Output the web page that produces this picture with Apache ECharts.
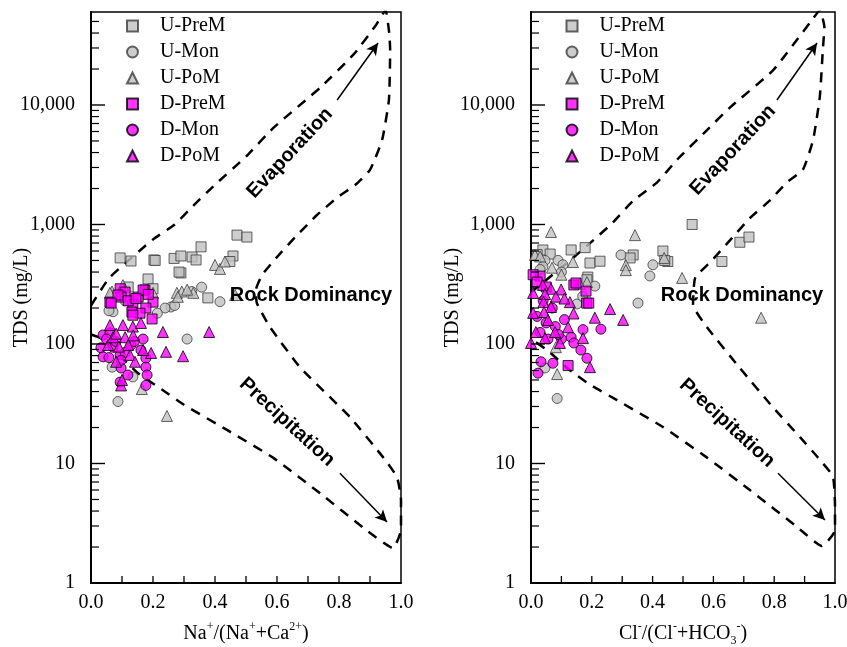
<!DOCTYPE html>
<html>
<head>
<meta charset="utf-8">
<script src="https://cdn.jsdelivr.net/npm/echarts@6/dist/echarts.min.js"></script>
<style>
  html, body { margin: 0; padding: 0; background: #fff; }
  #chart { width: 847px; height: 647px; }
</style>
</head>
<body>
<div id="chart"></div>
<script>
// legend names, in draw order
var names = ['U-PreM', 'U-Mon', 'U-PoM', 'D-PreM', 'D-Mon', 'D-PoM'];

// Na+/(Na+ + Ca2+) vs TDS
var naUPreM = [[0.094, 525], [0.129, 495], [0.203, 505], [0.207, 500], [0.268, 520], [0.29, 545], [0.326, 535], [0.339, 505],
  [0.355, 650], [0.29, 393], [0.284, 400], [0.184, 350], [0.471, 815], [0.503, 785], [0.458, 545], [0.448, 490], [0.377, 243],
  [0.12, 300], [0.2, 290]];
var naUMon = [[0.357, 299], [0.325, 275], [0.416, 226], [0.258, 204], [0.239, 200], [0.214, 181], [0.31, 110], [0.087, 33],
  [0.068, 64], [0.071, 186], [0.058, 190], [0.135, 53], [0.27, 210], [0.11, 230]];
var naUPoM = [[0.4, 459], [0.416, 425], [0.432, 490], [0.277, 268], [0.293, 275], [0.33, 268], [0.28, 248], [0.465, 257],
  [0.103, 311], [0.068, 275], [0.2, 268], [0.245, 25], [0.164, 42], [0.061, 268], [0.31, 285]];
var naDPreM = [[0.094, 290], [0.11, 272], [0.061, 224], [0.097, 247], [0.152, 247], [0.174, 283], [0.2, 224], [0.135, 213],
  [0.177, 200], [0.087, 257], [0.168, 283], [0.158, 181], [0.132, 185], [0.197, 162], [0.135, 174], [0.065, 220],
  [0.12, 230], [0.145, 240], [0.185, 260]];
var naDMon = [[0.039, 119], [0.032, 93], [0.039, 78], [0.071, 94], [0.094, 81], [0.097, 63], [0.094, 48], [0.119, 55],
  [0.168, 110], [0.161, 89], [0.177, 76], [0.177, 64], [0.181, 55], [0.177, 45], [0.129, 98], [0.11, 85], [0.058, 77],
  [0.097, 73], [0.061, 124], [0.08, 105], [0.14, 105], [0.05, 110]];
var naDPoM = [[0.061, 144], [0.103, 144], [0.135, 140], [0.161, 150], [0.232, 126], [0.381, 126], [0.242, 86], [0.297, 79],
  [0.194, 84], [0.168, 89], [0.055, 98], [0.081, 71], [0.126, 81], [0.142, 71], [0.097, 45], [0.11, 114], [0.071, 114],
  [0.136, 118], [0.081, 122], [0.12, 98], [0.09, 95], [0.1, 50]];

// Cl-/(Cl- + HCO3-) vs TDS
var clUPreM = [[0.53, 1000], [0.687, 710], [0.717, 785], [0.628, 490], [0.434, 600], [0.45, 490], [0.44, 500], [0.336, 556],
  [0.326, 525], [0.194, 476], [0.227, 493], [0.178, 640], [0.132, 612], [0.039, 612], [0.063, 566], [0.187, 363],
  [0.184, 345], [0.02, 560]];
var clUMon = [[0.296, 556], [0.401, 460], [0.391, 371], [0.352, 220], [0.21, 305], [0.151, 216], [0.089, 501], [0.105, 460],
  [0.046, 500], [0.086, 35], [0.046, 63], [0.039, 445], [0.03, 420], [0.1, 400], [0.17, 250]];
var clUPoM = [[0.066, 865], [0.342, 815], [0.312, 457], [0.312, 415], [0.438, 525], [0.497, 357], [0.757, 166], [0.138, 485],
  [0.069, 435], [0.013, 556], [0.184, 330], [0.086, 56], [0.082, 94], [0.03, 540], [0.1, 380], [0.16, 320]];
var clDPreM = [[0.141, 312], [0.181, 277], [0.183, 220], [0.19, 220], [0.03, 370], [0.007, 380], [0.122, 66], [0.02, 330],
  [0.05, 300], [0.148, 324]];
var clDMon = [[0.033, 71], [0.023, 57], [0.072, 69], [0.23, 133], [0.171, 132], [0.132, 114], [0.141, 102], [0.164, 89],
  [0.184, 76], [0.1, 110], [0.056, 110], [0.03, 125], [0.02, 170], [0.05, 150], [0.08, 140], [0.11, 160], [0.07, 200],
  [0.04, 230], [0.09, 120]];
var clDPoM = [[0.26, 196], [0.303, 159], [0.21, 166], [0.171, 112], [0.194, 64], [0.039, 312], [0.066, 290], [0.099, 286],
  [0.007, 267], [0.046, 262], [0.082, 249], [0.128, 224], [0.041, 225], [0.066, 204], [0.007, 182], [0.043, 185],
  [0.056, 159], [0.016, 126], [0.046, 112], [0.079, 126], [0.122, 138], [0.0, 102], [0.095, 102], [0.11, 240], [0.14, 180]];

// Gibbs boundary curves (dashed)
var naCurve = [[0, 210], [0.06, 360], [0.2, 750], [0.27, 1000], [0.335, 1480], [0.4, 2150], [0.5, 3700], [0.59, 6500],
  [0.74, 14000], [0.85, 27000], [0.92, 47000], [0.95, 62000], [0.962, 40000], [0.965, 28800], [0.961, 11000],
  [0.939, 5100], [0.9, 2860], [0.852, 2140], [0.797, 1700], [0.729, 1200], [0.665, 815], [0.603, 545], [0.552, 378],
  [0.532, 283], [0.535, 220], [0.577, 139], [0.674, 64], [0.835, 24.5], [0.942, 11.3], [0.987, 7.7], [1.0, 4.95],
  [1.0, 2.78], [0.974, 1.96], [0.89, 2.75], [0.74, 5.6], [0.587, 11.2], [0.44, 19], [0.3, 31], [0.232, 41],
  [0.152, 57], [0.03, 112], [0, 120]];
var clCurve = [[0, 270], [0.06, 360], [0.128, 500], [0.197, 708], [0.266, 1020], [0.336, 1580], [0.414, 2240], [0.48, 3470],
  [0.579, 6170], [0.655, 9550], [0.796, 19500], [0.918, 49000], [0.95, 62000], [0.965, 45000], [0.96, 29000],
  [0.95, 11700], [0.928, 5100], [0.895, 2900], [0.84, 2230], [0.786, 1590], [0.72, 1130], [0.655, 740], [0.595, 500],
  [0.54, 357], [0.533, 213], [0.579, 138], [0.687, 63], [0.796, 29.5], [0.885, 16.6], [0.944, 11.2], [0.993, 7.8],
  [1.0, 4.4], [1.0, 2.75], [0.957, 2.04], [0.875, 2.95], [0.72, 6.0], [0.579, 11.2], [0.434, 20.2], [0.283, 33.9],
  [0.194, 45.7], [0.128, 60.3], [0.053, 89], [0, 110]];

// axis ticks
var yMajor = [10, 100, 1000, 10000];
var minorTicks = [2, 3, 4, 5, 6, 7, 8, 9, 20, 30, 40, 50, 60, 70, 80, 90, 200, 300, 400, 500, 600, 700, 800, 900,
  2000, 3000, 4000, 5000, 6000, 7000, 8000, 9000, 20000, 30000, 40000, 50000];
var xMinor = [0.1, 0.2, 0.3, 0.4, 0.5, 0.6, 0.7, 0.8, 0.9];
var xTicks = [0, 0.2, 0.4, 0.6, 0.8, 1.0];

var serif = '"Liberation Serif", "Times New Roman", serif';
var sans = '"Liberation Sans", Arial, sans-serif';
var gray = { color: '#c0c0c0', borderColor: '#3c3c3c', borderWidth: 1 };
var pink = { color: '#ff00ff', borderColor: '#000', borderWidth: 1 };

function scatter(name, data, gi, symbol, style) {
  return {
    name: name, type: 'scatter', xAxisIndex: gi, yAxisIndex: gi, data: data,
    symbol: symbol, symbolSize: symbol === 'triangle' ? 11 : 10,
    itemStyle: style, z: 3
  };
}

function arrow(a, b) {
  return [{ coord: a, symbol: 'none' }, { coord: b, symbol: 'arrow' }];
}

function curve(data, gi, arrows) {
  return {
    name: 'boundary' + gi, type: 'line', xAxisIndex: gi, yAxisIndex: gi, data: data,
    showSymbol: false, smooth: 0.15, silent: true, z: 2,
    lineStyle: { color: '#000', width: 2.5, type: [10, 8] },
    markLine: {
      silent: true, symbol: ['none', 'arrow'], symbolSize: [9, 12],
      label: { show: false },
      lineStyle: { color: '#000', width: 1.5, type: 'solid' },
      data: arrows
    }
  };
}

function xAxisAt(gi, name, rich) {
  return {
    type: 'value', gridIndex: gi, min: 0, max: 1, interval: 0.2,
    name: name, nameLocation: 'middle', nameGap: 38, nameMoveOverlap: false,
    nameTextStyle: { fontFamily: serif, fontSize: 20, color: '#000', lineHeight: 26, rich: rich },
    axisLine: { show: true, onZero: false, lineStyle: { color: '#000', width: 2 } },
    axisTick: { show: false },
    axisLabel: { margin: 10, fontFamily: serif, fontSize: 20, color: '#000',
      formatter: function (v) { return xTicks.indexOf(Math.round(v * 10) / 10) >= 0 ? v.toFixed(1) : ''; } },
    splitLine: { show: false }
  };
}

function yAxisAt(gi, gap) {
  return {
    type: 'log', logBase: 10, min: 1, max: 60000, gridIndex: gi,
    name: 'TDS (mg/L)', nameLocation: 'middle', nameGap: gap, nameRotate: 90, nameMoveOverlap: false,
    nameTextStyle: { fontFamily: serif, fontSize: 20, color: '#000' },
    axisLine: { show: true, onZero: false, lineStyle: { color: '#000', width: 2 } },
    axisTick: { show: false },
    axisLabel: { margin: 16, fontFamily: serif, fontSize: 20, color: '#000',
      formatter: function (v) {
        var e = Math.log(v) / Math.LN10;
        if (Math.abs(e - Math.round(e)) > 1e-6) return '';
        return Math.round(v).toLocaleString('en-US');
      } },
    splitLine: { show: false }
  };
}

function legendAt(left) {
  return {
    orient: 'vertical', left: left, top: 13, padding: 0, itemGap: 0,
    itemWidth: 11, itemHeight: 11, selectedMode: false, data: names,
    textStyle: { fontFamily: serif, fontSize: 20, color: '#000', lineHeight: 26, padding: [0, 0, 0, 17] }
  };
}

var supRich = {
  sup: { fontFamily: serif, fontSize: 12, color: '#000', verticalAlign: 'top', lineHeight: 12 },
  sub: { fontFamily: serif, fontSize: 12, color: '#000', verticalAlign: 'bottom', lineHeight: 12 }
};

function label(text, x, y, deg) {
  return {
    type: 'text', x: x, y: y, rotation: deg * Math.PI / 180, z: 10,
    style: { text: text, font: 'bold 20px ' + sans, fill: '#000', align: 'center', verticalAlign: 'middle' }
  };
}

var labels = [
  label('Evaporation', 290, 153, 47),
  label('Rock Dominancy', 311, 295, 0),
  label('Precipitation', 287, 422, -42.5),
  label('Evaporation', 733, 150, 47),
  label('Rock Dominancy', 742, 295, 0),
  label('Precipitation', 727, 423, -42.5)
];

var chart = echarts.init(document.getElementById('chart'));
chart.setOption({
  animation: false,
  grid: [
    { left: 91, top: 12, width: 310, height: 571, show: true, borderColor: '#000', borderWidth: 1.5,
      outerBoundsMode: 'none' },
    { left: 531, top: 12, width: 304, height: 571, show: true, borderColor: '#000', borderWidth: 1.5,
      outerBoundsMode: 'none' }
  ],
  legend: [legendAt(126), legendAt(565.5)],
  xAxis: [
    xAxisAt(0, 'Na{sup|+}/(Na{sup|+}+Ca{sup|2+})', supRich),
    xAxisAt(1, 'Cl{sup|-}/(Cl{sup|-}+HCO{sub|3}{sup|-})', supRich)
  ],
  yAxis: [yAxisAt(0, 59), yAxisAt(1, 68)],
  graphic: labels,
  series: [
    curve(naCurve, 0, [arrow([0.794, 11000], [0.926, 33000]), arrow([0.803, 8.3], [0.955, 3.24])]),
    curve(clCurve, 1, [arrow([0.809, 11000], [0.941, 33000]), arrow([0.8125, 8.3], [0.967, 3.37])]),
    scatter('U-PreM', naUPreM, 0, 'rect', gray),
    scatter('U-Mon', naUMon, 0, 'circle', gray),
    scatter('U-PoM', naUPoM, 0, 'triangle', gray),
    scatter('D-PreM', naDPreM, 0, 'rect', pink),
    scatter('D-Mon', naDMon, 0, 'circle', pink),
    scatter('D-PoM', naDPoM, 0, 'triangle', pink),
    scatter('U-PreM', clUPreM, 1, 'rect', gray),
    scatter('U-Mon', clUMon, 1, 'circle', gray),
    scatter('U-PoM', clUPoM, 1, 'triangle', gray),
    scatter('D-PreM', clDPreM, 1, 'rect', pink),
    scatter('D-Mon', clDMon, 1, 'circle', pink),
    scatter('D-PoM', clDPoM, 1, 'triangle', pink)
  ]
});

// inward ticks, placed through the chart's own axes and drawn on a top layer
function tickLine(x1, y1, x2, y2, w) {
  return { type: 'line', zlevel: 1, z: 100, silent: true,
    shape: { x1: x1, y1: y1, x2: x2, y2: y2 }, style: { stroke: '#000', lineWidth: w } };
}
var ticks = [];
[0, 1].forEach(function (gi) {
  var finder = { gridIndex: gi };
  yMajor.forEach(function (v) {
    var p = chart.convertToPixel(finder, [0, v]);
    ticks.push(tickLine(p[0], p[1], p[0] + 14, p[1], 1.4));
  });
  minorTicks.forEach(function (v) {
    var p = chart.convertToPixel(finder, [0, v]);
    ticks.push(tickLine(p[0], p[1], p[0] + 8, p[1], 1.2));
  });
  xMinor.forEach(function (x) {
    var p = chart.convertToPixel(finder, [x, 1]);
    ticks.push(tickLine(p[0], p[1], p[0], p[1] - 7, 1.3));
  });
});
chart.setOption({ graphic: labels.concat(ticks) });
</script>
</body>
</html>
